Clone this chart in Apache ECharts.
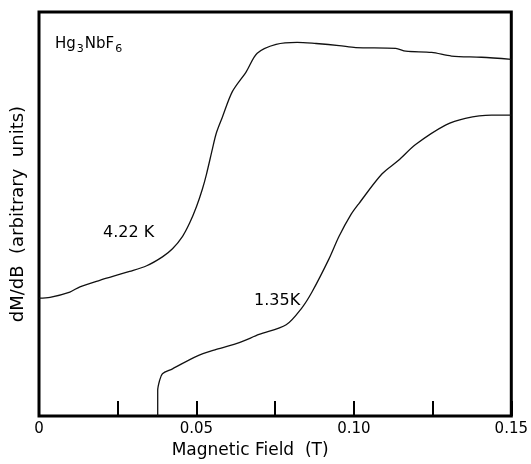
<!DOCTYPE html>
<html>
<head>
<meta charset="utf-8">
<script src="https://cdn.jsdelivr.net/npm/echarts@6/dist/echarts.min.js"></script>
<style>
  html, body { margin: 0; padding: 0; background: #fff; }
  #chart { width: 531px; height: 464px; }
</style>
</head>
<body>
<div id="chart"></div>
<script>
// x tick labels (every 0.025 T, labelled every 0.05)
var tickLabels = ["0", "", "0.05", "", "0.10", "", "0.15"];

// 4.22 K trace: field (T), dM/dB (arb.)
var fieldHigh = [0, 0.0035, 0.0098, 0.0130, 0.0193, 0.0288, 0.0342, 0.0392, 0.0424, 0.0456,
  0.0478, 0.0500, 0.0519, 0.0532, 0.0551, 0.0563, 0.0582, 0.0614, 0.0658, 0.0693,
  0.0753, 0.0820, 0.0880, 0.0953, 0.1006, 0.1133, 0.1165, 0.1247, 0.1310, 0.1405, 0.15];
var signalHigh = [29.2, 29.4, 30.7, 32.0, 33.6, 35.8, 37.2, 39.4, 41.4, 44.5,
  47.7, 51.8, 56.2, 59.9, 66.2, 70.0, 73.9, 80.3, 85.2, 89.8,
  92.0, 92.5, 92.2, 91.7, 91.2, 91.0, 90.3, 90.0, 89.1, 88.8, 88.3];

// 1.35 K trace
var fieldLow = [0.0377, 0.0377, 0.0383, 0.0392, 0.0424, 0.0500, 0.0563, 0.0636, 0.0699, 0.0785,
  0.0835, 0.0867, 0.0921, 0.0953, 0.0991, 0.1016, 0.1089, 0.1142, 0.1196, 0.1291,
  0.1354, 0.1437, 0.15];
var signalLow = [0, 6.3, 8.8, 10.5, 11.7, 14.8, 16.5, 18.2, 20.2, 22.6,
  26.8, 30.7, 38.9, 44.5, 49.9, 52.6, 59.9, 63.3, 67.2, 72.0,
  73.7, 74.5, 74.5];

function pairs(xs, ys) {
  return xs.map(function (x, i) { return [x, ys[i]]; });
}

var font = "DejaVu Sans";
var chart = echarts.init(document.getElementById("chart"));
chart.setOption({
  animation: false,
  grid: {
    left: 39, right: 18, top: 12, bottom: 41,
    show: true, borderColor: "#000", borderWidth: 3, backgroundColor: "#fff"
  },
  xAxis: {
    type: "value", min: 0, max: 0.15, interval: 0.025,
    name: "Magnetic Field  (T)", nameLocation: "middle", nameGap: 25,
    nameTextStyle: { fontFamily: font, fontSize: 17, color: "#000", padding: [0, 50, 0, 0] },
    axisLine: { show: false },
    axisTick: { show: true, inside: true, length: 15, lineStyle: { color: "#000", width: 2 } },
    axisLabel: {
      margin: 6, fontFamily: font, fontSize: 15, color: "#000",
      formatter: function (v) { return tickLabels[Math.round(v / 0.025)] || ""; }
    },
    splitLine: { show: false }
  },
  yAxis: {
    type: "value", min: 0, max: 100,
    name: "dM/dB  (arbitrary  units)", nameLocation: "middle", nameGap: 12,
    nameTextStyle: { fontFamily: font, fontSize: 18, color: "#000" },
    axisLine: { show: false }, axisTick: { show: false },
    axisLabel: { show: false }, splitLine: { show: false }
  },
  series: [
    {
      name: "4.22 K", type: "line", data: pairs(fieldHigh, signalHigh),
      symbol: "none", smooth: 0.3,
      lineStyle: { color: "#111", width: 1.3 }
    },
    {
      name: "1.35 K", type: "line", data: pairs(fieldLow, signalLow),
      symbol: "none", smooth: 0.3,
      lineStyle: { color: "#111", width: 1.3 }
    }
  ],
  graphic: [
    {
      type: "text", left: 55, top: 37,
      style: {
        text: "{n|Hg}{s|3}{n|NbF}{s|6}",
        rich: {
          n: { fontFamily: font, fontSize: 15, fill: "#000" },
          s: { fontFamily: font, fontSize: 11, fill: "#000", padding: [9, 1, 0, 1] }
        }
      }
    },
    { type: "text", left: 103, top: 225, style: { text: "4.22 K", fontFamily: font, fontSize: 16, fill: "#000" } },
    { type: "text", left: 254, top: 293, style: { text: "1.35K", fontFamily: font, fontSize: 16, fill: "#000" } }
  ]
});
</script>
</body>
</html>
